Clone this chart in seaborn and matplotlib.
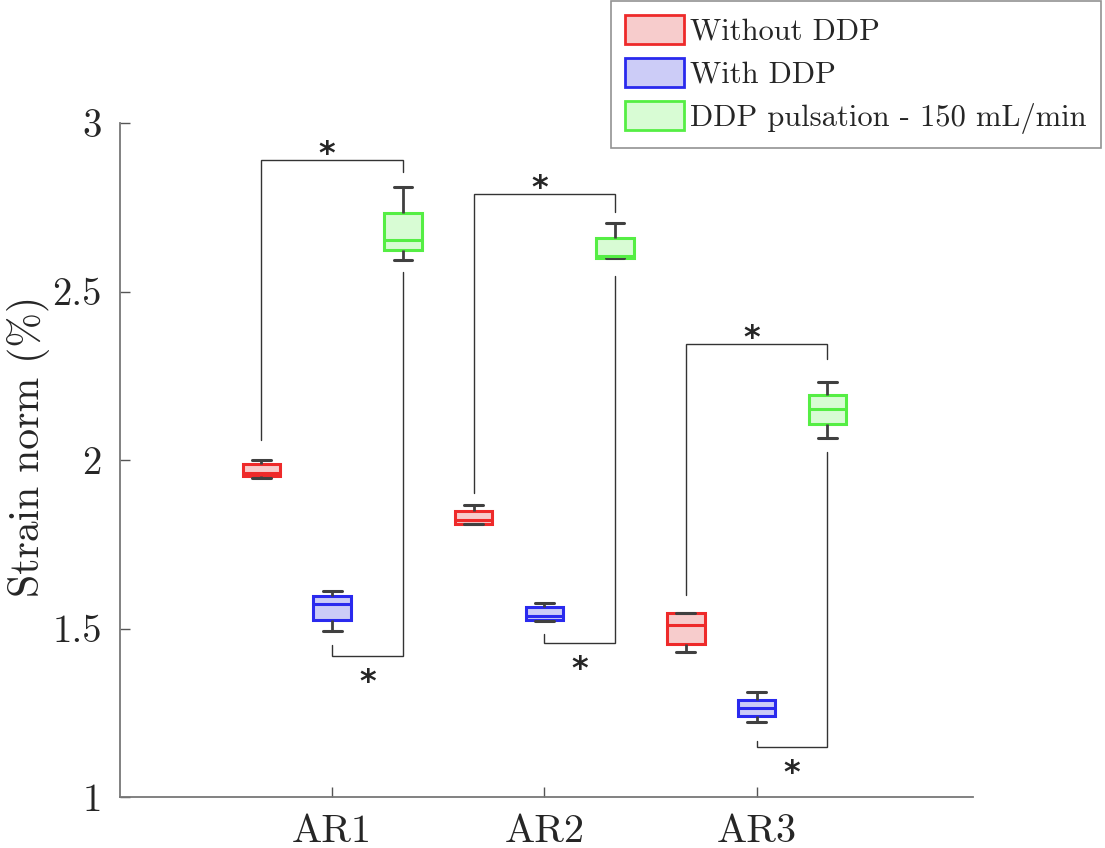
import numpy as np
import pandas as pd
import matplotlib
matplotlib.use("Agg")
import matplotlib.pyplot as plt
from matplotlib.patches import Patch
import seaborn as sns

# regions and conditions
regions = ["AR1", "AR2", "AR3"]
conditions = ["Without DDP", "With DDP", "DDP pulsation - 150 mL/min"]

# five-number values: min, q1, median, q3, max
without_ddp = {
    "AR1": [1.947, 1.952, 1.962, 1.988, 2.000],
    "AR2": [1.810, 1.810, 1.822, 1.850, 1.866],
    "AR3": [1.430, 1.454, 1.509, 1.545, 1.545],
}
with_ddp = {
    "AR1": [1.493, 1.525, 1.574, 1.597, 1.611],
    "AR2": [1.522, 1.525, 1.537, 1.564, 1.575],
    "AR3": [1.223, 1.241, 1.263, 1.288, 1.312],
}
ddp_pulsation = {
    "AR1": [2.593, 2.623, 2.653, 2.732, 2.811],
    "AR2": [2.600, 2.600, 2.605, 2.658, 2.704],
    "AR3": [2.064, 2.107, 2.150, 2.193, 2.232],
}

# significance brackets: (region, cond_a, cond_b, y_leg_a, y_line, y_leg_b, side)
brackets = [
    ("AR1", 0, 2, 2.059, 2.890, 2.855, "top"),
    ("AR1", 1, 2, 1.451, 1.418, 2.558, "bottom"),
    ("AR2", 0, 2, 1.902, 2.789, 2.735, "top"),
    ("AR2", 1, 2, 1.484, 1.456, 2.546, "bottom"),
    ("AR3", 0, 2, 1.599, 2.343, 2.300, "top"),
    ("AR3", 1, 2, 1.167, 1.149, 2.025, "bottom"),
]

edge_colors = ["#ee2a2a", "#2a2aee", "#55ee44"]
face_colors = ["#f7cccc", "#ccccf7", "#d8fcd4"]

rows = []
for cond, d in zip(conditions, [without_ddp, with_ddp, ddp_pulsation]):
    for reg in regions:
        for v in d[reg]:
            rows.append({"region": reg, "condition": cond, "strain": v})
df = pd.DataFrame(rows)

sns.set_style("white")
plt.rcParams["font.family"] = ["cmr10", "DejaVu Serif"]
plt.rcParams["axes.formatter.use_mathtext"] = True
plt.rcParams["mathtext.fontset"] = "cm"

fig = plt.figure(figsize=(11.05, 8.48), dpi=100)
ax = fig.add_axes([120 / 1105, 1 - 797 / 848, (973 - 120) / 1105, (797 - 123) / 848])

sns.boxplot(data=df, x="region", y="strain", hue="condition", order=regions,
            hue_order=conditions, palette=face_colors, saturation=1,
            width=1.0, gap=0.47, whis=np.inf, legend=False, ax=ax,
            linewidth=1.8, linecolor="#404040", showfliers=False)

for cont, ec in zip(ax.containers, edge_colors):
    for b in cont.boxes:
        b.set_edgecolor(ec)
        b.set_linewidth(2.2)
    for m in cont.medians:
        m.set_color(ec)
        m.set_linewidth(2.2)
    for w in cont.whiskers:
        w.set_color("#404040")
        w.set_linewidth(2.0)
    for c in cont.caps:
        c.set_color("#404040")
        c.set_linewidth(2.2)

# bracket annotations
offsets = [-1 / 3, 0, 1 / 3]
for reg, a, b, ya, yl, yb, side in brackets:
    xa = regions.index(reg) + offsets[a]
    xb = regions.index(reg) + offsets[b]
    ax.plot([xa, xa, xb, xb], [ya, yl, yl, yb], color="#333333", lw=1.0,
            solid_joinstyle="miter")
    xm = (xa + xb) / 2
    if side == "top":
        ax.annotate("*", (xm - 0.024, yl), xytext=(0, -2), textcoords="offset points",
                    ha="center", va="baseline", fontsize=23, fontweight="heavy",
                    family="DejaVu Sans")
    else:
        ax.annotate("*", (xm, yl), xytext=(0, -25), textcoords="offset points",
                    ha="center", va="baseline", fontsize=23, fontweight="heavy",
                    family="DejaVu Sans")

ax.set_xlim(-1.0, 3.02)
ax.set_ylim(1, 3)
ax.set_yticks([1, 1.5, 2, 2.5, 3])
ax.set_yticklabels(["1", "1.5", "2", "2.5", "3"])
ax.set_xlabel("")
ax.set_ylabel("Strain norm (%)", fontsize=30)
ax.yaxis.set_label_coords(-0.082, 0.52)
ax.tick_params(axis="y", labelsize=28, direction="in", length=7, width=1,
               color="#555555", pad=13, left=True)
ax.tick_params(axis="x", labelsize=29, direction="in", length=7, width=1,
               color="#555555", pad=12, bottom=True)
for s in ["top", "right"]:
    ax.spines[s].set_visible(False)
for s in ["left", "bottom"]:
    ax.spines[s].set_color("#777777")
    ax.spines[s].set_linewidth(1.3)

handles = [Patch(facecolor=f, edgecolor=e, linewidth=2) for f, e in zip(face_colors, edge_colors)]
leg = fig.legend(handles, conditions, loc="upper right", bbox_to_anchor=(0.996, 0.999),
                 fontsize=22, frameon=True, fancybox=False, handlelength=1.95,
                 handleheight=1.1, handletextpad=0.2, labelspacing=0.4,
                 borderpad=0.45, borderaxespad=0.0)
leg.get_frame().set_edgecolor("#777777")
leg.get_frame().set_linewidth(1.2)

fig.savefig("out.png", dpi=100)
